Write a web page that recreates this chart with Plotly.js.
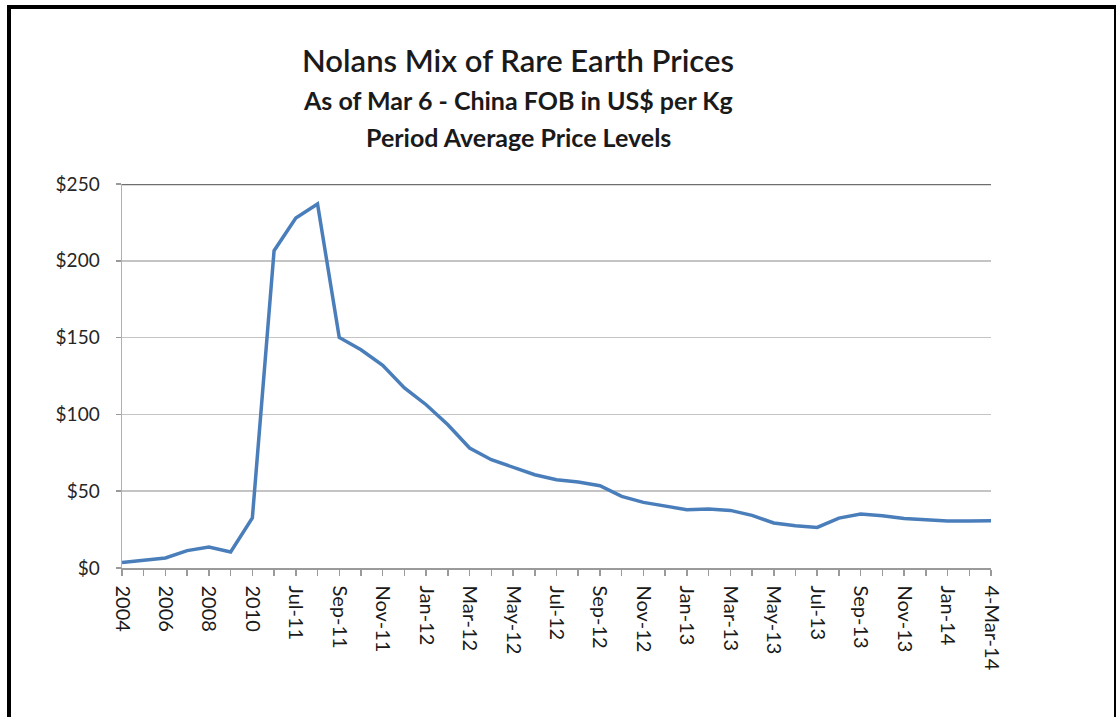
<!DOCTYPE html>
<html>
<head>
<meta charset="utf-8">
<script src="https://cdn.plot.ly/plotly-3.0.1.min.js"></script>
<style>
  html, body { margin: 0; padding: 0; background: #fff; }
  #wrap { position: relative; width: 1116px; height: 717px; overflow: hidden; }
  #chart { position: absolute; left: 0; top: 0; width: 1116px; height: 717px; }
  #frame { position: absolute; left: 7px; top: 5px; width: 1103px; height: 730px;
           border-left: 4px solid #000; border-top: 4px solid #000; border-right: 3px solid #000;
           pointer-events: none; }
</style>
</head>
<body>
<div id="wrap">
  <div id="chart"></div>
  <div id="frame"></div>
</div>
<script>
// Period labels (category axis)
const periods = [
  "2004","2005","2006","2007","2008","2009","2010",
  "Jun-11","Jul-11","Aug-11","Sep-11","Oct-11","Nov-11","Dec-11",
  "Jan-12","Feb-12","Mar-12","Apr-12","May-12","Jun-12","Jul-12","Aug-12","Sep-12","Oct-12","Nov-12","Dec-12",
  "Jan-13","Feb-13","Mar-13","Apr-13","May-13","Jun-13","Jul-13","Aug-13","Sep-13","Oct-13","Nov-13","Dec-13",
  "Jan-14","Feb-14","4-Mar-14"
];
// Nolans mix price, US$ per kg
const prices = [
  3.6, 5.0, 6.5, 11.3, 13.7, 10.4, 32.6,
  206.6, 227.9, 237.0, 150.1, 142.1, 132.0, 117.2,
  106.3, 93.3, 78.1, 70.5, 65.5, 60.7, 57.5, 56.0, 53.6, 46.6, 42.7, 40.1,
  38.0, 38.4, 37.5, 34.3, 29.3, 27.5, 26.4, 32.5, 35.1, 34.0, 32.3, 31.4,
  30.6, 30.6, 30.8
];
// Labels shown on every other category
const shownLabels = ["2004","2006","2008","2010","Jul-11","Sep-11","Nov-11","Jan-12","Mar-12","May-12",
  "Jul-12","Sep-12","Nov-12","Jan-13","Mar-13","May-13","Jul-13","Sep-13","Nov-13","Jan-14","4-Mar-14"];
const yTicks = [0, 50, 100, 150, 200, 250];
const yTickText = ["$0","$50","$100","$150","$200","$250"];

const tickText = periods.map(p => shownLabels.includes(p) ? p : "");

const FONT = "Lato, 'Open Sans', sans-serif";

const trace = {
  x: periods, y: prices, type: "scatter", mode: "lines",
  line: { color: "#4a7ebb", width: 3.5 },
  hoverinfo: "x+y"
};

const titleX = (518 - 122) / 868.7;

const layout = {
  width: 1116, height: 717,
  margin: { l: 122, r: 125, t: 184, b: 149 },
  paper_bgcolor: "#ffffff", plot_bgcolor: "#ffffff",
  showlegend: false,
  font: { family: FONT, color: "#222" },
  title: {
    text: "Nolans Mix of Rare Earth Prices",
    font: { family: FONT, size: 31, color: "#1a1a1a", weight: 600 },
    x: 518 / 1116, xanchor: "center", xref: "container",
    y: 1 - 61 / 717, yanchor: "middle", yref: "container"
  },
  annotations: [
    { text: "As of Mar 6 - China FOB in US$ per Kg", xref: "paper", yref: "paper",
      x: titleX, y: (568 - 100) / 384, xanchor: "center", yanchor: "middle",
      showarrow: false, font: { family: FONT, size: 25, color: "#1a1a1a", weight: 700 } },
    { text: "Period Average Price Levels", xref: "paper", yref: "paper",
      x: titleX, y: (568 - 137) / 384, xanchor: "center", yanchor: "middle",
      showarrow: false, font: { family: FONT, size: 25, color: "#1a1a1a", weight: 700 } }
  ],
  xaxis: {
    type: "category",
    range: [0, periods.length - 1],
    tickmode: "array", tickvals: periods, ticktext: tickText,
    tickangle: 90,
    ticks: "outside", ticklen: 6, tickcolor: "#9a9a9a", tickwidth: 1.5,
    ticklabelstandoff: 6,
    tickfont: { family: FONT, size: 20, color: "#1a1a1a" },
    showline: true, linecolor: "#9a9a9a", linewidth: 1.5,
    showgrid: false, zeroline: false, fixedrange: true
  },
  yaxis: {
    range: [0, 250],
    tickmode: "array", tickvals: yTicks, ticktext: yTickText,
    ticks: "outside", ticklen: 5, tickcolor: "#9a9a9a", tickwidth: 1.5,
    ticklabelstandoff: 12,
    tickfont: { family: FONT, size: 19, color: "#262626" },
    showline: true, linecolor: "#b0b0b0", linewidth: 1.5,
    showgrid: true, gridcolor: "#c4c4c4", gridwidth: 1.5,
    zeroline: false, fixedrange: true
  },
  shapes: [
    { type: "line", xref: "paper", yref: "y", x0: 0, x1: 1, y0: 250, y1: 250,
      line: { color: "#6e6e6e", width: 2.5 } }
  ]
};

Plotly.newPlot("chart", [trace], layout, { displayModeBar: false, staticPlot: true });
</script>
</body>
</html>
